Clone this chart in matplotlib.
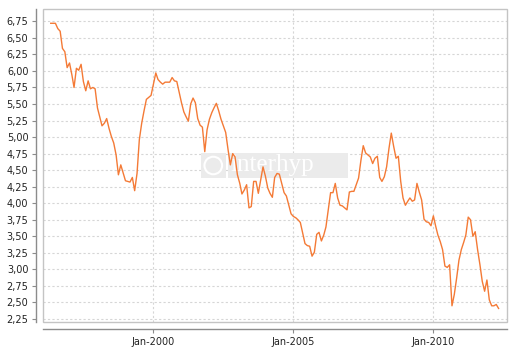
import numpy as np
import pandas as pd
import matplotlib
matplotlib.use("Agg")
import matplotlib.pyplot as plt
import matplotlib.dates as mdates
from matplotlib.patches import Rectangle, Ellipse
from matplotlib.ticker import FuncFormatter

# monthly rates, May 1996 .. May 2012
start_month = "1996-05"
rates = [
    6.72, 6.72, 6.72, 6.64, 6.60, 6.34, 6.29, 6.05,                          # 1996
    6.12, 5.94, 5.75, 6.04, 6.01, 6.10, 5.84, 5.70, 5.85, 5.73, 5.75, 5.73,  # 1997
    5.44, 5.30, 5.17, 5.21, 5.28, 5.13, 5.01, 4.91, 4.73, 4.43, 4.58, 4.46,  # 1998
    4.34, 4.33, 4.32, 4.39, 4.19, 4.45, 4.96, 5.21, 5.40, 5.57, 5.60, 5.63,  # 1999
    5.80, 5.97, 5.87, 5.83, 5.80, 5.83, 5.83, 5.83, 5.90, 5.85, 5.84, 5.68,  # 2000
    5.52, 5.38, 5.31, 5.24, 5.50, 5.59, 5.52, 5.28, 5.18, 5.15, 4.78, 5.11,  # 2001
    5.27, 5.37, 5.44, 5.51, 5.40, 5.27, 5.17, 5.07, 4.81, 4.58, 4.75, 4.70,  # 2002
    4.43, 4.30, 4.14, 4.20, 4.28, 3.93, 3.95, 4.33, 4.33, 4.15, 4.35, 4.55,  # 2003
    4.41, 4.23, 4.15, 4.09, 4.39, 4.45, 4.44, 4.30, 4.16, 4.11, 3.97, 3.84,  # 2004
    3.80, 3.78, 3.75, 3.71, 3.55, 3.39, 3.36, 3.35, 3.20, 3.26, 3.53, 3.56,  # 2005
    3.43, 3.52, 3.64, 3.90, 4.16, 4.16, 4.30, 4.08, 3.97, 3.96, 3.93, 3.90,  # 2006
    4.17, 4.18, 4.18, 4.28, 4.38, 4.65, 4.87, 4.76, 4.73, 4.70, 4.60, 4.68,  # 2007
    4.71, 4.39, 4.33, 4.40, 4.55, 4.83, 5.06, 4.86, 4.68, 4.71, 4.33, 4.08,  # 2008
    3.97, 4.03, 4.08, 4.03, 4.05, 4.30, 4.17, 4.05, 3.76, 3.72, 3.71, 3.66,  # 2009
    3.81, 3.65, 3.52, 3.42, 3.30, 3.05, 3.03, 3.07, 2.45, 2.62, 2.87, 3.14,  # 2010
    3.30, 3.41, 3.52, 3.79, 3.75, 3.50, 3.57, 3.30, 3.07, 2.82, 2.67, 2.84,  # 2011
    2.54, 2.45, 2.45, 2.47, 2.41,                                            # 2012
]
dates = pd.date_range(start_month, periods=len(rates), freq="MS")

y_ticks = np.arange(2.25, 6.76, 0.25)
x_ticks = ["2000-01-01", "2005-01-01", "2010-01-01"]

fig = plt.figure(figsize=(5.2, 3.47), dpi=100)
ax = fig.add_axes([43 / 520, 1 - 322 / 347, 464 / 520, 313 / 347])

ax.plot(dates, rates, color="#f47a36", lw=1.0, zorder=5)

ax.set_xlim(pd.Timestamp("1996-01-21"), pd.Timestamp("2012-08-19"))
ax.set_ylim(2.205, 6.936)

ax.set_yticks(y_ticks)
ax.yaxis.set_major_formatter(FuncFormatter(lambda v, p: f"{v:.2f}".replace(".", ",")))
ax.set_xticks(pd.to_datetime(x_ticks))
ax.xaxis.set_major_formatter(mdates.DateFormatter("%b-%Y"))

ax.grid(True, color="#d6d6d6", linestyle=(0, (2, 2)), lw=0.8)
ax.set_axisbelow(True)

for s in ["top", "right"]:
    ax.spines[s].set_visible(False)
for s in ["left", "bottom"]:
    ax.spines[s].set_position(("outward", 5))
    ax.spines[s].set_color("#8c8c8c")
    ax.spines[s].set_linewidth(1.0)
ax.tick_params(axis="both", length=3, width=0.8, color="#8c8c8c",
               labelsize=7, labelcolor="#222222", pad=2.5)

# plot frame
ax.add_patch(Rectangle((0, 0), 1, 1, transform=ax.transAxes, fill=False,
                       ec="#c4c4c4", lw=1.0, clip_on=False, zorder=6))

# watermark
ax.add_patch(Rectangle((0.34, 0.46), 0.054, 0.08, transform=ax.transAxes,
                       fc="#ebebeb", ec="none", zorder=2))
ax.add_patch(Rectangle((0.399, 0.46), 0.258, 0.08, transform=ax.transAxes,
                       fc="#ebebeb", ec="none", zorder=2))
ax.add_patch(Ellipse((0.367, 0.5), 0.038, 0.056, transform=ax.transAxes, fill=False,
                     ec="white", lw=1.5, zorder=3))
ax.text(0.405, 0.5, "interhyp", transform=ax.transAxes, fontsize=18,
        family="Liberation Serif", color="white", va="center", ha="left", zorder=3)

fig.savefig("out.png", dpi=100)
